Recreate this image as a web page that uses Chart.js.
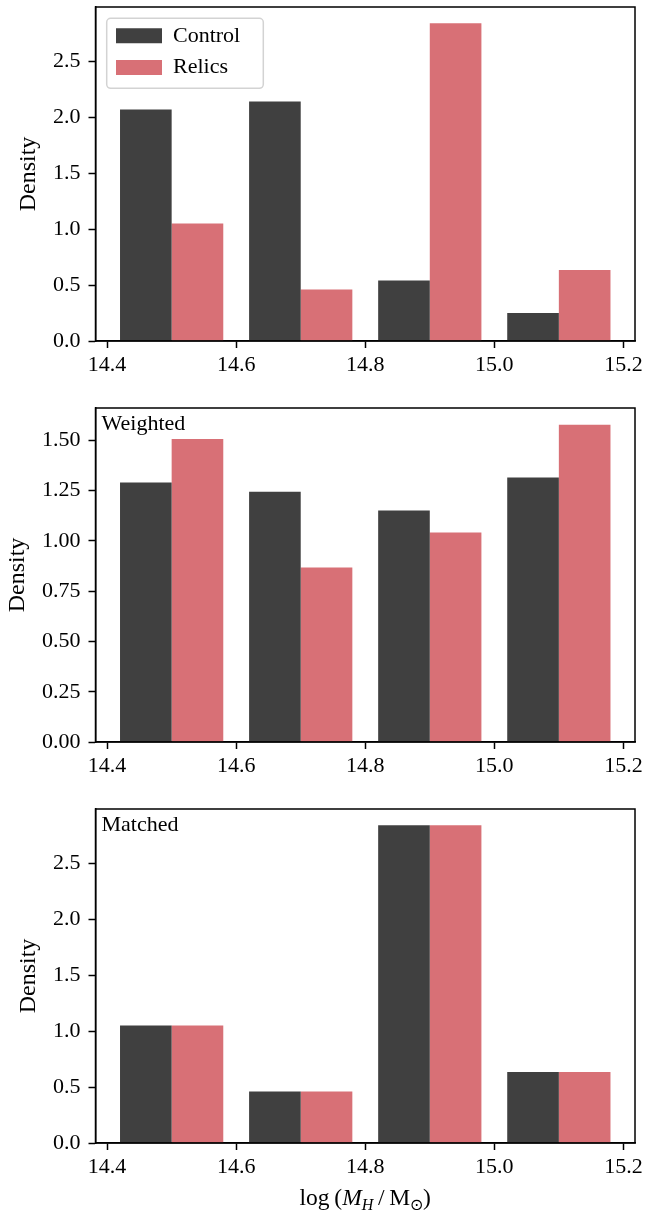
<!DOCTYPE html>
<html><head><meta charset="utf-8">
<script src="https://cdn.jsdelivr.net/npm/chart.js@4"></script>
<style>
html,body{margin:0;padding:0;background:#fff;}
#wrap{position:relative;width:663px;height:1210px;overflow:hidden;background:#fff;}
.panel{position:absolute;left:0;width:663px;}
canvas{display:block;}
#xtitle{position:absolute;left:95.5px;width:539.5px;text-align:center;top:1184px;font-family:"Liberation Serif",serif;font-size:23.5px;line-height:26px;color:#000;white-space:nowrap;}
#xtitle sub{font-size:0.68em;vertical-align:-0.3em;line-height:0;}
</style></head>
<body><div id="wrap">
<div class="panel" style="top:0"><canvas id="c1" width="663" height="401"></canvas></div>
<div class="panel" style="top:401px"><canvas id="c2" width="663" height="401"></canvas></div>
<div class="panel" style="top:802px"><canvas id="c3" width="663" height="408"></canvas></div>
<div id="xtitle">log&#8201;(<i>M</i><sub><i>H</i></sub>&#8201;/&#8201;M<sub>&#8857;</sub>)</div>
</div>
<script>
// ---- data ----
const binCenters = [14.5, 14.7, 14.9, 15.1];
const xTickValues = [14.4, 14.6, 14.8, 15.0, 15.2];
const xRange = [14.382, 15.218];
const yTicksFull = [0, 0.5, 1.0, 1.5, 2.0, 2.5];
const yTicksWeighted = [0, 0.25, 0.5, 0.75, 1.0, 1.25, 1.5];
const controlRaw = [2.07, 2.14, 0.54, 0.25];
const relicsRaw = [1.05, 0.46, 2.84, 0.635];
const controlWeighted = [1.29, 1.245, 1.151, 1.315];
const relicsWeighted = [1.507, 0.868, 1.042, 1.578];
const controlMatched = [1.05, 0.46, 2.84, 0.635];
const relicsMatched = [1.05, 0.46, 2.84, 0.635];
const seriesNames = ['Control', 'Relics'];
const panelLabels = ['', 'Weighted', 'Matched'];
const yAxisTitle = 'Density';

// ---- styles ----
const FONT = '"Liberation Serif", serif';
const COLORS = ['rgb(64,64,64)', 'rgb(216,112,118)'];
Chart.defaults.font.family = FONT;
Chart.defaults.font.size = 22;
Chart.defaults.color = '#000';

const framePlugin = {
  id: 'frame',
  afterLayout(chart) {
    const o = chart.options.plugins.frame || {};
    if (o.legend && chart.legend) {
      const a = chart.chartArea;
      chart.legend.left = a.left + 10.8;
      chart.legend.top = a.top + 8.1;
    }
  },
  beforeDraw(chart) {
    const o = chart.options.plugins.frame || {};
    if (!o.legend) return;
    const a = chart.chartArea, ctx = chart.ctx;
    ctx.save();
    ctx.beginPath();
    ctx.roundRect(a.left + 11.2, a.top + 11.3, 156.6, 70, 4);
    ctx.fillStyle = 'rgba(255,255,255,0.8)';
    ctx.fill();
    ctx.lineWidth = 1.5;
    ctx.strokeStyle = '#d3d3d3';
    ctx.stroke();
    ctx.restore();
  },
  afterDraw(chart) {
    const o = chart.options.plugins.frame || {};
    const a = chart.chartArea, ctx = chart.ctx;
    ctx.save();
    ctx.lineWidth = 1.5;
    ctx.strokeStyle = '#000';
    ctx.strokeRect(a.left, a.top, a.right - a.left, a.bottom - a.top);
    if (o.label) {
      ctx.fillStyle = '#000';
      ctx.font = '22px ' + FONT;
      ctx.textBaseline = 'alphabetic';
      ctx.textAlign = 'left';
      ctx.fillText(o.label, a.left + 6, a.top + 21.5);
    }
    ctx.restore();
  }
};

function axisCommon() {
  return {
    grid: { offset: false, drawOnChartArea: false, drawTicks: true, tickLength: 7, tickWidth: 1.5, tickColor: '#000' },
    border: { display: true, color: '#000', width: 1.5 }
  };
}

function makePanel(id, control, relics, opts) {
  const ctx = document.getElementById(id);
  const xAxisHeight = ctx.height - 341;
  new Chart(ctx, {
    type: 'bar',
    data: {
      datasets: [
        { label: seriesNames[0], data: binCenters.map((x, i) => ({ x: x, y: control[i] })),
          backgroundColor: COLORS[0], borderColor: COLORS[0], borderWidth: 0,
          categoryPercentage: 0.8, barPercentage: 1.0 },
        { label: seriesNames[1], data: binCenters.map((x, i) => ({ x: x, y: relics[i] })),
          backgroundColor: COLORS[1], borderColor: COLORS[1], borderWidth: 0,
          categoryPercentage: 0.8, barPercentage: 1.0 }
      ]
    },
    options: {
      responsive: false,
      animation: false,
      devicePixelRatio: window.devicePixelRatio || 1,
      layout: { padding: { left: 0, top: 7, right: 28, bottom: 0 } },
      plugins: {
        legend: {
          display: !!opts.legend,
          position: 'chartArea',
          align: 'start',
          labels: { boxWidth: 46, boxHeight: 15, padding: 9.7, color: '#000', font: { size: 22, family: FONT } }
        },
        tooltip: { enabled: false },
        frame: { legend: !!opts.legend, label: opts.label }
      },
      scales: {
        x: Object.assign(axisCommon(), {
          type: 'linear', min: xRange[0], max: xRange[1], offset: false,
          ticks: { padding: 4.5, color: '#000', font: { size: 22 }, maxRotation: 0, autoSkip: false,
                   callback: v => Number(v).toFixed(1) },
          afterBuildTicks: s => { s.ticks = xTickValues.map(v => ({ value: v })); },
          afterFit: s => { s.height = xAxisHeight; s.paddingLeft = 0; s.paddingRight = 0; s.paddingTop = 0; s.paddingBottom = 0; }
        }),
        y: Object.assign(axisCommon(), {
          type: 'linear', min: 0, max: opts.yMax,
          ticks: { padding: 8, color: '#000', font: { size: 22 },
                   callback: v => Number(v).toFixed(opts.dec) },
          afterBuildTicks: s => { s.ticks = opts.yTicks.map(v => ({ value: v })); },
          afterFit: s => { s.width = 95.5; s.paddingTop = 0; s.paddingBottom = 0; s.paddingLeft = 0; s.paddingRight = 0; },
          title: { display: true, text: yAxisTitle, color: '#000', font: { size: 24 },
                   padding: { top: opts.titlePad, bottom: 0 } }
        })
      }
    },
    plugins: [framePlugin]
  });
}

makePanel('c1', controlRaw, relicsRaw, { legend: true, label: panelLabels[0], yMax: 2.985, yTicks: yTicksFull, dec: 1, titlePad: 14.3 });
makePanel('c2', controlWeighted, relicsWeighted, { legend: false, label: panelLabels[1], yMax: 1.661, yTicks: yTicksWeighted, dec: 2, titlePad: 3.6 });
makePanel('c3', controlMatched, relicsMatched, { legend: false, label: panelLabels[2], yMax: 2.985, yTicks: yTicksFull, dec: 1, titlePad: 14.3 });
</script>
</body></html>
